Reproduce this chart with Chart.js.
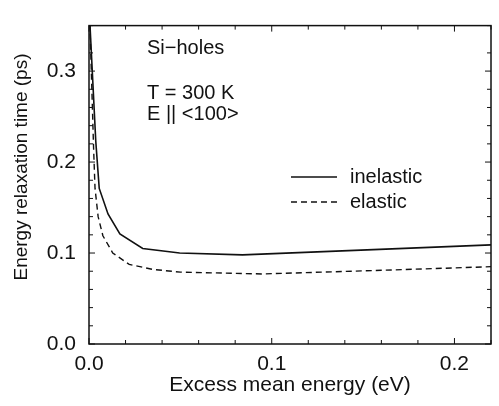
<!DOCTYPE html>
<html>
<head>
<meta charset="utf-8">
<script src="https://cdn.jsdelivr.net/npm/chart.js@4/dist/chart.umd.min.js"></script>
<style>
  html, body { margin: 0; padding: 0; background: #fff; }
  #wrap { width: 499px; height: 406px; }
</style>
</head>
<body>
<div id="wrap"><canvas id="chart" width="499" height="406"></canvas></div>
<script>
// energy (eV) and relaxation time (ps)
const inelasticX = [0.0005, 0.0037, 0.0056, 0.0104, 0.0169, 0.0294, 0.0496, 0.084, 0.159, 0.22];
const inelasticY = [0.352, 0.223, 0.171, 0.143, 0.121, 0.105, 0.100, 0.098, 0.104, 0.109];
const elasticX = [0.0005, 0.0025, 0.0033, 0.005, 0.0076, 0.013, 0.022, 0.035, 0.05, 0.095, 0.16, 0.22];
const elasticY = [0.352, 0.216, 0.171, 0.140, 0.119, 0.100, 0.0875, 0.082, 0.079, 0.077, 0.081, 0.085];
const xTickLabels = [0, 0.1, 0.2];
const yTickLabels = [0, 0.1, 0.2, 0.3];
const annotation = ['Si\u2212holes', '', 'T = 300 K', 'E || <100>'];
const yTitle = 'Energy relaxation time (ps)';

const FONT = '"Liberation Sans", Arial, Helvetica, sans-serif';

function toPoints(xs, ys) {
    return xs.map((x, i) => ({ x: x, y: ys[i] }));
}

function isLabelled(v, list) {
    return list.some(t => Math.abs(t - v) < 1e-6);
}

// box, inward ticks, text and legend
const decorations = {
    id: 'decorations',
    afterDraw(chart) {
        const ctx = chart.ctx;
        const a = chart.chartArea;
        const xs = chart.scales.x, ys = chart.scales.y;
        ctx.save();
        ctx.strokeStyle = '#111';
        ctx.lineWidth = 1.5;
        ctx.strokeRect(a.left, a.top, a.right - a.left, a.bottom - a.top);

        ctx.lineWidth = 1;
        ctx.beginPath();
        xs.ticks.forEach(t => {
            const px = xs.getPixelForValue(t.value);
            const len = isLabelled(t.value, xTickLabels) ? 6 : 4;
            ctx.moveTo(px, a.bottom); ctx.lineTo(px, a.bottom - len);
            ctx.moveTo(px, a.top); ctx.lineTo(px, a.top + len);
        });
        ys.ticks.forEach(t => {
            const py = ys.getPixelForValue(t.value);
            const len = isLabelled(t.value, yTickLabels) ? 6 : 4;
            ctx.moveTo(a.left, py); ctx.lineTo(a.left + len, py);
            ctx.moveTo(a.right, py); ctx.lineTo(a.right - len, py);
        });
        ctx.stroke();

        ctx.fillStyle = '#111';
        ctx.textBaseline = 'middle';

        // y axis title
        ctx.save();
        ctx.font = '19px ' + FONT;
        ctx.textAlign = 'center';
        ctx.translate(22, 167);
        ctx.rotate(-Math.PI / 2);
        ctx.fillText(yTitle, 0, 0);
        ctx.restore();

        ctx.font = '20px ' + FONT;
        ctx.textAlign = 'left';
        const ay = [48, 0, 93, 114];
        annotation.forEach((s, i) => { if (s) ctx.fillText(s, 147, ay[i]); });

        // legend
        const rows = [{ ds: chart.data.datasets[0], y: 177 }, { ds: chart.data.datasets[1], y: 202 }];
        rows.forEach(r => {
            ctx.strokeStyle = r.ds.borderColor;
            ctx.lineWidth = r.ds.borderWidth;
            ctx.setLineDash(r.ds.borderDash || []);
            ctx.beginPath();
            ctx.moveTo(291, r.y); ctx.lineTo(337, r.y);
            ctx.stroke();
            ctx.setLineDash([]);
            ctx.fillText(r.ds.label, 350, r.y);
        });
        ctx.restore();
    }
};

new Chart(document.getElementById('chart'), {
    type: 'scatter',
    data: {
        datasets: [
            {
                label: 'inelastic',
                data: toPoints(inelasticX, inelasticY),
                showLine: true,
                borderColor: '#111',
                borderWidth: 1.6,
                pointRadius: 0,
                tension: 0
            },
            {
                label: 'elastic',
                data: toPoints(elasticX, elasticY),
                showLine: true,
                borderColor: '#111',
                borderWidth: 1.4,
                borderDash: [6, 4],
                pointRadius: 0,
                tension: 0
            }
        ]
    },
    options: {
        responsive: false,
        animation: false,
        events: [],
        layout: { padding: { top: 6, right: 7, bottom: 6, left: 0 } },
        plugins: { legend: { display: false }, tooltip: { enabled: false } },
        scales: {
            x: {
                type: 'linear',
                min: 0,
                max: 0.22,
                grid: { display: false, drawTicks: false },
                border: { display: false },
                afterFit(s) { s.height = 56; },
                ticks: {
                    stepSize: 0.02,
                    padding: 8,
                    color: '#111',
                    font: { family: FONT, size: 21 },
                    maxRotation: 0,
                    autoSkip: false,
                    callback: v => isLabelled(v, xTickLabels) ? v.toFixed(1) : ''
                },
                title: {
                    display: true,
                    text: 'Excess mean energy (eV)',
                    color: '#111',
                    font: { family: FONT, size: 21 },
                    padding: { top: 0, bottom: 2 }
                }
            },
            y: {
                type: 'linear',
                min: 0,
                max: 0.35,
                grid: { display: false, drawTicks: false },
                border: { display: false },
                afterFit(s) { s.width = 89; },
                ticks: {
                    stepSize: 0.02,
                    padding: 13,
                    color: '#111',
                    font: { family: FONT, size: 21 },
                    autoSkip: false,
                    callback: v => isLabelled(v, yTickLabels) ? v.toFixed(1) : ''
                }
            }
        }
    },
    plugins: [decorations]
});
</script>
</body>
</html>
